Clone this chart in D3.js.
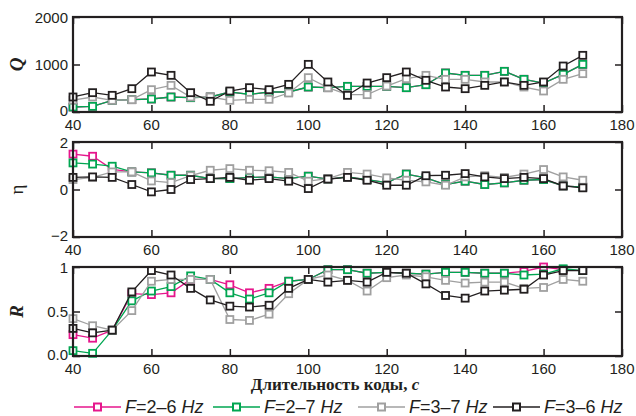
<!DOCTYPE html>
<html><head><meta charset="utf-8">
<script src="https://cdn.jsdelivr.net/npm/d3@7"></script>
<style>body{margin:0;background:#fff}svg{display:block}</style>
</head><body><svg id="c" width="636" height="416"></svg>
<script>
const durations = [40,45,50,55,60,65,70,75,80,85,90,95,100,105,110,115,120,125,130,135,140,145,150,155,160,165,170];
const seriesNames = ["F=2–6 Hz","F=2–7 Hz","F=3–7 Hz","F=3–6 Hz"];
const seriesColors = ["#e6168c","#00a651","#a0a0a0","#231f20"];
const xTicks = [40,60,80,100,120,140,160,180];

const Q_26 = [105,119,246,260,274,316,302,316,421,372,421,421,526,512,540,540,540,512,575,821,772,772,856,688,610,793,1003];
const Q_27 = [105,119,246,260,274,316,302,316,421,372,421,421,526,512,540,540,540,512,575,821,772,772,856,688,610,793,1003];
const Q_37 = [250,316,246,260,470,561,316,316,246,267,267,400,723,512,365,365,547,702,772,688,688,632,632,526,442,688,807];
const Q_36 = [316,407,351,491,842,772,407,225,442,512,470,582,1003,632,351,610,723,842,667,526,491,561,632,561,632,968,1193];

const ETA_26 = [1.49,1.40,0.85,0.74,0.70,0.60,0.60,0.46,0.46,0.51,0.53,0.46,0.56,0.44,0.53,0.42,0.29,0.65,0.49,0.21,0.35,0.21,0.28,0.39,0.42,0.15,0.10];
const ETA_27 = [1.12,1.07,0.98,0.74,0.70,0.60,0.60,0.46,0.46,0.51,0.53,0.46,0.56,0.44,0.53,0.42,0.29,0.65,0.49,0.21,0.35,0.21,0.28,0.39,0.42,0.15,0.10];
const ETA_37 = [0.42,0.51,0.74,0.74,0.36,0.29,0.58,0.81,0.88,0.81,0.79,0.72,0.35,0.46,0.72,0.65,0.49,0.39,0.32,0.18,0.53,0.58,0.51,0.65,0.84,0.53,0.39];
const ETA_36 = [0.51,0.53,0.51,0.21,-0.10,0.00,0.42,0.46,0.51,0.39,0.46,0.35,0.04,0.44,0.51,0.39,0.18,0.18,0.58,0.60,0.67,0.53,0.46,0.51,0.46,0.15,0.07];

const R_26 = [0.24,0.20,0.29,0.70,0.69,0.71,0.86,0.86,0.80,0.71,0.76,0.84,0.86,0.97,0.97,0.93,0.94,0.93,0.92,0.94,0.94,0.93,0.93,0.95,1.00,0.97,0.96];
const R_27 = [0.06,0.03,0.29,0.62,0.73,0.78,0.90,0.86,0.71,0.64,0.71,0.84,0.86,0.97,0.97,0.93,0.94,0.93,0.92,0.94,0.94,0.93,0.93,0.91,0.92,0.98,0.96];
const R_37 = [0.42,0.34,0.29,0.51,0.84,0.86,0.86,0.86,0.41,0.40,0.47,0.70,0.86,0.91,0.85,0.73,0.88,0.91,0.89,0.85,0.82,0.83,0.83,0.76,0.77,0.86,0.84];
const R_36 = [0.31,0.26,0.29,0.72,0.96,0.91,0.76,0.63,0.56,0.55,0.57,0.76,0.86,0.83,0.85,0.83,0.94,0.93,0.81,0.68,0.65,0.73,0.74,0.75,0.91,0.96,0.96];

const qTicks = [0,1000,2000], qTickLabels = ["0","1000","2000"];
const etaTicks = [-2,0,2], etaTickLabels = ["−2","0","2"];
const rTicks = [0,0.5,1], rTickLabels = ["0.0","0.5","1"];

const svg = d3.select("#c");
const L = 73, Rr = 622;
const x = d3.scaleLinear().domain([40,180]).range([L,Rr]);
const ink = "#231f20";

const panels = [
  {top:17, bottom:112, domain:[0,2000], ticks:qTicks, labels:qTickLabels, data:[Q_26,Q_27,Q_37,Q_36], title:"Q", tStyle:"italic", tWeight:"bold"},
  {top:142, bottom:237, domain:[-2,2], ticks:etaTicks, labels:etaTickLabels, data:[ETA_26,ETA_27,ETA_37,ETA_36], title:"η", tStyle:"normal", tWeight:"normal"},
  {top:267, bottom:356, domain:[0,1], ticks:rTicks, labels:rTickLabels, data:[R_26,R_27,R_37,R_36], title:"R", tStyle:"italic", tWeight:"bold"}
];

panels.forEach(p => {
  const y = d3.scaleLinear().domain(p.domain).range([p.bottom,p.top]);
  const g = svg.append("g");
  const ax = [
    [d3.axisBottom(x).tickValues(xTicks).tickSize(-7).tickFormat(""), `translate(0,${p.bottom})`],
    [d3.axisTop(x).tickValues(xTicks).tickSize(-7).tickFormat(""), `translate(0,${p.top})`],
    [d3.axisLeft(y).tickValues(p.ticks).tickSize(-7).tickFormat(""), `translate(${L},0)`],
    [d3.axisRight(y).tickValues(p.ticks).tickSize(-7).tickFormat(""), `translate(${Rr},0)`]
  ];
  ax.forEach(([a,t]) => {
    const ag = g.append("g").attr("transform",t).call(a);
    ag.select(".domain").remove();
    ag.selectAll("line").attr("stroke",ink).attr("stroke-width",1.5);
  });
  g.selectAll(".xl").data(xTicks).enter().append("text")
    .attr("x",d=>x(d)).attr("y",p.bottom+17.5).attr("text-anchor","middle")
    .attr("font-family","Liberation Sans, Arial, sans-serif").attr("font-size",15).attr("fill",ink)
    .text(d=>d);
  g.selectAll(".yl").data(p.ticks).enter().append("text")
    .attr("x",L-5).attr("y",(d,i)=>y(d)+(i===0?3.5:5.5)).attr("text-anchor","end")
    .attr("font-family","Liberation Sans, Arial, sans-serif").attr("font-size",15).attr("fill",ink)
    .text((d,i)=>p.labels[i]);
  g.append("text").attr("transform",`translate(23,${(p.top+p.bottom)/2}) rotate(-90)`)
    .attr("text-anchor","middle").attr("font-family","Liberation Serif, Times New Roman, serif")
    .attr("font-size",19).attr("font-style",p.tStyle).attr("font-weight",p.tWeight).attr("fill",ink)
    .text(p.title);
  const line = d3.line().x((d,i)=>x(durations[i])).y(d=>y(d));
  p.data.forEach((vals,si) => {
    const sg = g.append("g");
    sg.append("path").datum(vals).attr("d",line).attr("fill","none")
      .attr("stroke",seriesColors[si]).attr("stroke-width",1.3);
    sg.selectAll("rect").data(vals).enter().append("rect")
      .attr("x",(d,i)=>x(durations[i])-3.5).attr("y",d=>y(d)-3.5)
      .attr("width",7).attr("height",7).attr("fill","#fff")
      .attr("stroke",seriesColors[si]).attr("stroke-width",1.8);
  });
  g.append("rect").attr("x",L).attr("y",p.top).attr("width",Rr-L).attr("height",p.bottom-p.top)
    .attr("fill","none").attr("stroke",ink).attr("stroke-width",2.2);
});

const xt = svg.append("text").attr("x",335).attr("y",390).attr("text-anchor","middle")
  .attr("font-family","Liberation Serif, Times New Roman, serif").attr("font-size",17)
  .attr("font-weight","bold").attr("fill",ink);
xt.append("tspan").text("Длительность коды, ");
xt.append("tspan").attr("font-style","italic").text("c");

const legX = [74,213,358,493];
const leg = svg.append("g");
seriesNames.forEach((name,i) => {
  const lg = leg.append("g").attr("transform",`translate(${legX[i]},407)`);
  lg.append("line").attr("x1",0).attr("x2",47).attr("y1",0).attr("y2",0)
    .attr("stroke",seriesColors[i]).attr("stroke-width",1.5);
  lg.append("rect").attr("x",20).attr("y",-3.5).attr("width",7).attr("height",7)
    .attr("fill","#fff").attr("stroke",seriesColors[i]).attr("stroke-width",2);
  const t = lg.append("text").attr("x",51).attr("y",6)
    .attr("font-family","Liberation Sans, Arial, sans-serif").attr("font-size",18)
    .attr("font-style","italic").attr("fill",ink);
  const m = name.match(/^F(=)(.*?) (Hz)$/);
  t.append("tspan").text("F");
  t.append("tspan").attr("font-style","normal").text("=" + m[2] + " ");
  t.append("tspan").text("Hz");
});
</script></body></html>
